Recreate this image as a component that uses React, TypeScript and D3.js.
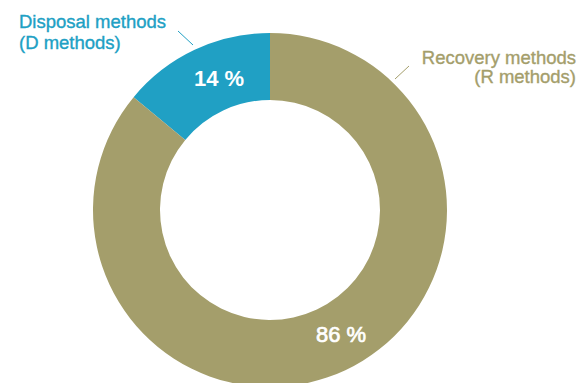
import React from "react";
import * as d3 from "d3";

const categories = ["Disposal methods (D methods)", "Recovery methods (R methods)"];
const values = [14, 86];
const valueLabels = ["14 %", "86 %"];
const labelLines = [["Disposal methods", "(D methods)"], ["Recovery methods", "(R methods)"]];
const colors = ["#20a0c4", "#a49e6b"];

export default function App() {
  const W = 579, H = 383;
  const cx = 270, cy = 210;
  const outerR = 177, innerR = 110;
  const pie = d3.pie<number>().sort(null).startAngle(0).endAngle(-2 * Math.PI).value((d) => d);
  const arcs = pie(values);
  const arc = d3.arc<d3.PieArcDatum<number>>().innerRadius(innerR).outerRadius(outerR);
  const font = "'Liberation Sans', Arial, Helvetica, sans-serif";
  return (
    <svg width={W} height={H} style={{ position: "absolute", left: 0, top: 0, fontFamily: font }}>
      <g transform={`translate(${cx},${cy})`}>
        {arcs.map((a, i) => (
          <path key={categories[i]} d={arc(a) || ""} fill={colors[i]} />
        ))}
      </g>
      {/* value labels */}
      <text x={219} y={86} fill="#fff" fontSize={22} fontWeight="bold" textAnchor="middle">{valueLabels[0]}</text>
      <text x={341} y={342} fill="#fff" stroke="#fff" strokeWidth={0.7} fontSize={22} textAnchor="middle">{valueLabels[1]}</text>
      {/* leader lines */}
      <line x1={178} y1={31} x2={193} y2={45} stroke={colors[0]} strokeWidth={1} />
      <line x1={409} y1={66} x2={395} y2={79} stroke={colors[1]} strokeWidth={1} />
      {/* category labels */}
      <text x={19} y={27.5} fill={colors[0]} stroke={colors[0]} strokeWidth={0.35} fontSize={18.5} textAnchor="start">
        <tspan x={19}>{labelLines[0][0]}</tspan>
        <tspan x={19} y={48.5}>{labelLines[0][1]}</tspan>
      </text>
      <text x={576} y={64} fill={colors[1]} stroke={colors[1]} strokeWidth={0.35} fontSize={18.5} textAnchor="end">
        <tspan x={576}>{labelLines[1][0]}</tspan>
        <tspan x={576} y={83}>{labelLines[1][1]}</tspan>
      </text>
    </svg>
  );
}
